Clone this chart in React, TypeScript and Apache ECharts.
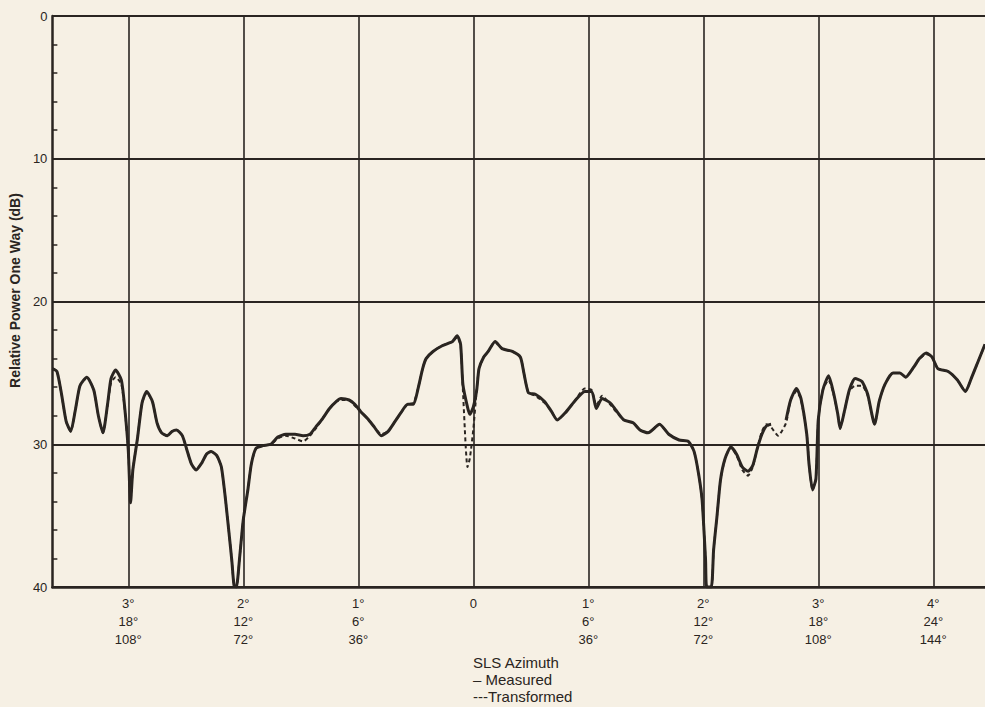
import React, { useEffect, useRef } from "react";
import * as echarts from "echarts";

// Azimuth in degrees (negative = left of boresight), shared by both traces
const azimuthDeg = [
  -3.66, -3.62, -3.58, -3.54, -3.5, -3.46, -3.42, -3.36, -3.3, -3.26, -3.22, -3.18, -3.15, -3.11, -3.06,
  -3.03, -3.0, -2.98, -2.96, -2.92, -2.88, -2.84, -2.79, -2.75, -2.71, -2.66, -2.62, -2.58, -2.53, -2.49,
  -2.45, -2.41, -2.36, -2.32, -2.28, -2.23, -2.19, -2.15, -2.1, -2.08, -2.06, -2.03, -2.0, -1.96, -1.93,
  -1.89, -1.83, -1.76, -1.7, -1.63, -1.55, -1.48, -1.42, -1.37, -1.31, -1.25, -1.19, -1.15, -1.08, -1.03,
  -0.98, -0.92, -0.86, -0.8, -0.74, -0.68, -0.63, -0.57, -0.52, -0.48, -0.44, -0.41, -0.35, -0.27, -0.18,
  -0.14, -0.11, -0.09, -0.05, -0.03, 0, 0.03, 0.05, 0.09, 0.13, 0.19, 0.25, 0.34, 0.41, 0.44,
  0.48, 0.54, 0.62, 0.68, 0.73, 0.8, 0.88, 0.97, 1.03, 1.07, 1.12, 1.19, 1.24, 1.31, 1.39,
  1.45, 1.52, 1.62, 1.7, 1.79, 1.87, 1.92, 1.96, 1.99, 2.02, 2.03, 2.07, 2.09, 2.12, 2.15,
  2.19, 2.24, 2.29, 2.34, 2.39, 2.43, 2.47, 2.51, 2.55, 2.59, 2.65, 2.72, 2.76, 2.81, 2.85,
  2.9, 2.92, 2.95, 2.98, 3.0, 3.04, 3.09, 3.13, 3.17, 3.19, 3.23, 3.27, 3.32, 3.38, 3.43,
  3.49, 3.53, 3.58, 3.65, 3.71, 3.76, 3.83, 3.88, 3.94, 3.99, 4.04, 4.13, 4.21, 4.28, 4.33,
  4.39, 4.45,
];

// Measured relative power (dB), null = pen lifted
const measuredDb = [
  24.7, 24.9, 26.5, 28.4, 29.1, 27.6, 25.9, 25.3, 26.2, 28.0, 29.2, 27.2, 25.4, 24.8, 25.5,
  27.5, 30.4, 34.1, 31.8, 29.6, 27.1, 26.3, 27.0, 28.5, 29.2, 29.4, 29.1, 29.0, 29.4, 30.4,
  31.4, 31.8, 31.3, 30.7, 30.5, 30.8, 31.6, 34.2, 38.1, 39.9, 40.0, 37.8, 35.3, 33.2, 31.4,
  30.3, 30.1, 30.0, 29.5, 29.3, 29.3, 29.4, 29.3, 28.8, 28.2, 27.5, 27.0, 26.8, 26.9, 27.2,
  27.7, 28.2, 28.8, 29.4, 29.1, 28.4, 27.8, 27.2, 27.2, 26.1, 24.7, 24.0, 23.5, 23.1, 22.8,
  22.4, 23.0, 25.8, 27.4, 27.9, 27.4, 26.2, 24.7, 23.9, 23.5, 22.8, 23.3, 23.5, 23.9, 25.0,
  26.4, 26.5, 27.0, 27.7, 28.3, 27.8, 27.0, 26.3, 26.3, 27.5, 26.8, 27.1, 27.6, 28.3, 28.5,
  29.0, 29.2, 28.6, 29.3, 29.7, 29.8, 30.5, 32.1, 33.9, 38.1, 40.0, 40.0, 37.4, 35.0, 32.5,
  31.0, 30.2, 30.7, 31.6, 31.9, 31.5, 30.3, 29.3, 28.7, 28.6, null, 28.3, 26.9, 26.1, 26.8,
  29.3, 31.4, 33.2, 32.4, 28.3, 26.2, 25.2, 26.3, 27.9, 28.9, 27.6, 26.2, 25.4, 25.6, 26.5,
  28.6, 27.0, 25.8, 25.0, 25.0, 25.3, 24.6, 24.0, 23.6, 23.9, 24.7, 24.9, 25.5, 26.3, 25.4,
  24.2, 23.0,
];

// Transformed relative power (dB)
const transformedDb = [
  24.7, 24.9, 26.5, 28.4, 29.1, 27.6, 25.9, 25.3, 26.2, 28.0, 29.2, 27.3, 25.7, 25.3, 25.8,
  27.6, 30.4, 34.0, 31.8, 29.6, 27.1, 26.4, 27.0, 28.5, 29.2, 29.4, 29.1, 29.0, 29.4, 30.4,
  31.4, 31.8, 31.3, 30.7, 30.5, 30.8, 31.6, 34.2, 38.1, 39.9, 40.0, 37.8, 35.3, 33.2, 31.4,
  30.3, 30.1, 30.0, 29.6, 29.4, 29.6, 29.8, 29.4, 28.9, 28.2, 27.5, 27.0, 26.9, 26.9, 27.3,
  27.7, 28.2, 28.8, 29.3, 29.1, 28.4, 27.8, 27.2, 27.1, 26.1, 24.7, 24.0, 23.5, 23.1, 22.8,
  22.5, 23.1, 26.2, 31.6, 31.0, 29.0, 26.2, 24.7, 23.9, 23.5, 22.8, 23.3, 23.5, 23.9, 25.0,
  26.4, 26.6, 27.1, 27.7, 28.3, 27.8, 27.0, 26.1, 26.2, 27.3, 26.6, 27.2, 27.7, 28.3, 28.5,
  29.0, 29.2, 28.6, 29.3, 29.7, 29.8, 30.5, 32.1, 33.9, 38.1, 40.0, 40.0, 37.4, 35.0, 32.5,
  31.0, 30.2, 30.8, 31.8, 32.2, 31.6, 30.3, 29.1, 28.6, 28.8, 29.4, 28.5, 26.9, 26.3, 26.9,
  29.3, 31.4, 33.2, 32.4, 28.3, 26.2, 25.5, 26.4, 27.9, 28.9, 27.6, 26.3, 25.9, 25.9, 26.6,
  28.6, 27.0, 25.8, 25.0, 25.0, 25.3, 24.6, 24.0, 23.7, 23.9, 24.7, 24.9, 25.5, 26.3, 25.4,
  24.2, 23.0,
];

const azimuthTicks = [-3, -2, -1, 0, 1, 2, 3, 4];
const azimuthTickLabels = [
  "3°\n18°\n108°",
  "2°\n12°\n72°",
  "1°\n6°\n36°",
  "0",
  "1°\n6°\n36°",
  "2°\n12°\n72°",
  "3°\n18°\n108°",
  "4°\n24°\n144°",
];
const legendLines = ["SLS Azimuth", "– Measured", "---Transformed"];

export default function App() {
  const ref = useRef<HTMLDivElement>(null);

  useEffect(() => {
    if (!ref.current) return;
    const chart = echarts.init(ref.current, undefined, { renderer: "svg" });
    const ink = "#2a2521";
    const font = "'Liberation Sans', Arial, Helvetica, sans-serif";
    const pairs = (ys: (number | null)[]) =>
      azimuthDeg.map((x, i) => [x, ys[i] === null ? "-" : ys[i]]);

    chart.setOption({
      animation: false,
      backgroundColor: "#f6f0e4",
      grid: { left: 48, right: 0, top: 16, bottom: 120, containLabel: false },
      title: {
        text: legendLines.join("\n"),
        left: 473,
        top: 654,
        padding: 0,
        textStyle: {
          fontFamily: font,
          fontSize: 15,
          lineHeight: 17,
          fontWeight: "normal",
          color: ink,
        },
      },
      xAxis: {
        type: "value",
        min: -3.66,
        max: 4.45,
        axisLine: { show: true, onZero: false, lineStyle: { color: ink, width: 2.5 } },
        axisTick: { show: false, customValues: azimuthTicks },
        axisLabel: {
          customValues: azimuthTicks,
          formatter: (v: number) => {
            const i = azimuthTicks.indexOf(Math.round(v));
            return i >= 0 ? azimuthTickLabels[i] : "";
          },
          margin: 7,
          fontFamily: font,
          fontSize: 13,
          lineHeight: 18,
          color: ink,
          verticalAlign: "top",
        },
        splitLine: { show: true, lineStyle: { color: ink, width: 1.6 } },
      },
      yAxis: {
        type: "value",
        inverse: true,
        min: 0,
        max: 40,
        interval: 10,
        name: "Relative Power One Way (dB)",
        nameLocation: "middle",
        nameRotate: 90,
        nameGap: 24,
        nameTextStyle: {
          fontFamily: font,
          fontSize: 14,
          fontWeight: "bold",
          color: ink,
          padding: [0, 0, 0, 22],
        },
        axisLine: { show: true, onZero: false, lineStyle: { color: ink, width: 2.5 } },
        axisTick: { show: false, inside: true },
        minorTick: { show: true, splitNumber: 5, length: 5, lineStyle: { color: ink, width: 1.5 } },
        axisLabel: {
          margin: 5,
          fontFamily: font,
          fontSize: 13,
          color: ink,
        },
        splitLine: { show: true, lineStyle: { color: ink, width: 1.8 } },
      },
      series: [
        {
          name: "Transformed",
          type: "line",
          data: pairs(transformedDb),
          showSymbol: false,
          smooth: 0.2,
          lineStyle: { color: ink, width: 2, type: [4, 3] },
          z: 2,
        },
        {
          name: "Measured",
          type: "line",
          data: pairs(measuredDb),
          showSymbol: false,
          smooth: 0.2,
          connectNulls: false,
          lineStyle: { color: ink, width: 3 },
          z: 3,
        },
      ],
    });

    return () => chart.dispose();
  }, []);

  return (
    <div
      ref={ref}
      style={{
        position: "absolute",
        left: 0,
        top: 0,
        width: 985,
        height: 707,
        background: "#f6f0e4",
      }}
    />
  );
}
